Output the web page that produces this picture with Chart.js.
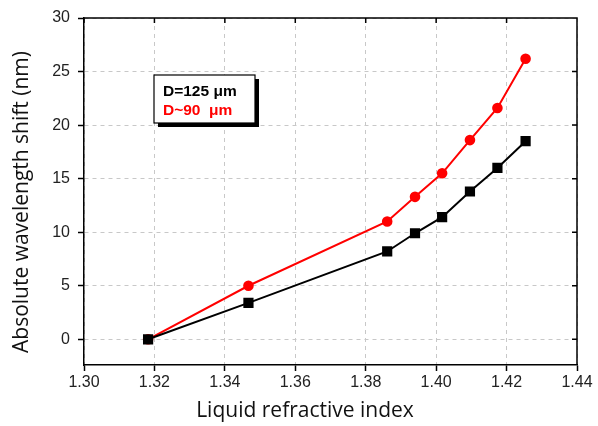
<!DOCTYPE html>
<html>
<head>
<meta charset="utf-8">
<script src="https://cdn.jsdelivr.net/npm/chart.js@4.4.1/dist/chart.umd.min.js"></script>
<style>
  html, body { margin: 0; padding: 0; background: #fff; }
  #wrap { width: 598px; height: 426px; }
</style>
</head>
<body>
<div id="wrap"><canvas id="chart" width="598" height="426"></canvas></div>
<script>
// refractive index of the liquid (x)
const refIndex = [1.3182, 1.3467, 1.3861, 1.394, 1.4017, 1.4096, 1.4174, 1.4254];
// wavelength shift in nm
const shiftD125 = [0, 3.4, 8.2, 9.9, 11.4, 13.8, 16.0, 18.5];
const shiftD90 = [0, 5.0, 11.0, 13.3, 15.5, 18.6, 21.6, 26.2];
const seriesLabels = ["D=125 \u03bcm", "D~90  \u03bcm"];
const xTicks = [1.30, 1.32, 1.34, 1.36, 1.38, 1.40, 1.42, 1.44];
const yTicks = [0, 5, 10, 15, 20, 25, 30];
const xTitle = "Liquid refractive index";
const yTitle = "Absolute wavelength shift (nm)";

const TITLE_FONT = "'Open Sans', 'Noto Sans', sans-serif";
const TICK_FONT = "'Liberation Sans', Arial, sans-serif";

function toPoints(xs, ys) {
  return xs.map((x, i) => ({ x: x, y: ys[i] }));
}

// frame round the plot with inward ticks on top and right
const framePlugin = {
  id: "frame",
  afterDraw(chart) {
    const ctx = chart.ctx;
    const a = chart.chartArea;
    const xs = chart.scales.x;
    const ys = chart.scales.y;
    ctx.save();
    ctx.strokeStyle = "#000";
    ctx.lineWidth = 1.5;
    ctx.beginPath();
    ctx.moveTo(a.left, a.top);
    ctx.lineTo(a.right, a.top);
    ctx.lineTo(a.right, a.bottom);
    xTicks.forEach((t) => {
      const px = xs.getPixelForValue(t);
      ctx.moveTo(px, a.top);
      ctx.lineTo(px, a.top + 5);
    });
    yTicks.forEach((t) => {
      const py = ys.getPixelForValue(t);
      ctx.moveTo(a.right, py);
      ctx.lineTo(a.right - 5, py);
    });
    ctx.stroke();
    ctx.restore();
  },
};

// axis titles (the original sits them a bit off the plot centre)
const titlePlugin = {
  id: "axisTitles",
  afterDraw(chart) {
    const ctx = chart.ctx;
    ctx.save();
    ctx.fillStyle = "#111";
    ctx.font = "21px " + TITLE_FONT;
    ctx.textAlign = "center";
    ctx.textBaseline = "middle";
    ctx.fillText(xTitle, 305, 411);
    ctx.translate(22, 202);
    ctx.rotate(-Math.PI / 2);
    ctx.fillText(yTitle, 0, 0);
    ctx.restore();
  },
};

// boxed legend with shadow
const legendPlugin = {
  id: "boxLegend",
  afterDraw(chart) {
    const ctx = chart.ctx;
    const a = chart.chartArea;
    const bx = a.left + 70, by = a.top + 57, bw = 101, bh = 48;
    ctx.save();
    ctx.fillStyle = "#000";
    ctx.fillRect(bx + 4, by + 4, bw, bh);
    ctx.fillStyle = "#fff";
    ctx.fillRect(bx, by, bw, bh);
    ctx.strokeStyle = "#000";
    ctx.lineWidth = 1.2;
    ctx.strokeRect(bx, by, bw, bh);
    ctx.font = "bold 15.5px " + TICK_FONT;
    ctx.textBaseline = "middle";
    ctx.fillStyle = "#000";
    ctx.fillText(seriesLabels[0], bx + 9, by + 17);
    ctx.fillStyle = "#ff0000";
    ctx.fillText(seriesLabels[1], bx + 9, by + 36);
    ctx.restore();
  },
};

new Chart(document.getElementById("chart"), {
  type: "line",
  data: {
    datasets: [
      {
        label: seriesLabels[0],
        data: toPoints(refIndex, shiftD125),
        borderColor: "#000",
        backgroundColor: "#000",
        borderWidth: 2,
        pointStyle: "rect",
        pointRadius: 5.8,
        pointHoverRadius: 5.8,
        tension: 0,
      },
      {
        label: seriesLabels[1],
        data: toPoints(refIndex, shiftD90),
        borderColor: "#ff0000",
        backgroundColor: "#ff0000",
        borderWidth: 2,
        pointStyle: "circle",
        pointRadius: 4.3,
        pointHoverRadius: 4.3,
        tension: 0,
      },
    ],
  },
  options: {
    responsive: false,
    animation: false,
    layout: { padding: { top: 18, right: 21, left: 0, bottom: 0 } },
    plugins: {
      legend: { display: false },
      tooltip: { enabled: false },
    },
    scales: {
      x: {
        type: "linear",
        min: 1.30,
        max: 1.44,
        afterBuildTicks(scale) {
          scale.ticks = xTicks.map((v) => ({ value: v }));
        },
        afterFit(scale) {
          scale.height = 61;
        },
        ticks: {
          color: "#222",
          font: { family: TICK_FONT, size: 16 },
          padding: 2,
          callback: (v) => v.toFixed(2),
        },
        grid: {
          color: "#c8c8c8",
          lineWidth: 1,
          tickColor: "#000",
          tickLength: 6,
          tickWidth: 1.5,
        },
        border: { color: "#000", width: 1.5, dash: [4, 4] },
      },
      y: {
        type: "linear",
        min: -2.4,
        max: 30,
        afterBuildTicks(scale) {
          scale.ticks = yTicks.map((v) => ({ value: v }));
        },
        afterFit(scale) {
          scale.width = 84;
        },
        ticks: {
          color: "#222",
          font: { family: TICK_FONT, size: 16 },
          padding: 8,
        },
        grid: {
          color: "#c8c8c8",
          lineWidth: 1,
          tickColor: "#000",
          tickLength: 6,
          tickWidth: 1.5,
        },
        border: { color: "#000", width: 1.5, dash: [4, 4] },
      },
    },
  },
  plugins: [framePlugin, titlePlugin, legendPlugin],
});
</script>
</body>
</html>
